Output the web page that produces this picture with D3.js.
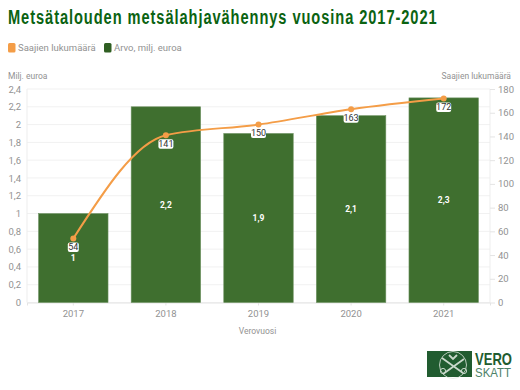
<!DOCTYPE html>
<html>
<head>
<meta charset="utf-8">
<script src="https://cdn.jsdelivr.net/npm/d3@7"></script>
<style>
  html, body { margin: 0; padding: 0; background: #fff; }
  svg { display: block; font-family: Roboto, "Liberation Sans", sans-serif; }
  .y-axis .domain, .y2-axis .domain { display: none; }
</style>
</head>
<body>
<svg id="chart" width="520" height="390"></svg>
<script>
const years = ["2017", "2018", "2019", "2020", "2021"]
const arvo = [1, 2.2, 1.9, 2.1, 2.3]
const saajat = [54, 141, 150, 163, 172]
const leftTicks = [0, 0.2, 0.4, 0.6, 0.8, 1, 1.2, 1.4, 1.6, 1.8, 2, 2.2, 2.4]
const rightTicks = [0, 20, 40, 60, 80, 100, 120, 140, 160, 180]

const svg = d3.select("#chart")
const measures = { left: 27, right: 490, top: 89, bottom: 302.5 }
const grey = "#929292", green = "#3f6f2f", orange = "#f49d47"
const comma = v => String(v).replace(".", ",")

const x = d3.scaleBand().domain(years).range([measures.left, measures.right]).paddingInner(0.25).paddingOuter(0.125)
const y = d3.scaleLinear().domain([0, 2.4]).range([measures.bottom, measures.top])
const y2 = d3.scaleLinear().domain([0, 180]).range([measures.bottom, measures.top])
const cx = d => x(d) + x.bandwidth() / 2

// squeeze a text sideways until it is the wanted width (no narrow font installed)
const fitText = (sel, px, py, width) => {
  const k = width / sel.node().getComputedTextLength()
  sel.attr("transform", `translate(${px},${py}) scale(${k},1)`)
}

// title and legend
const title = svg.append("text")
  .attr("font-family", "'Liberation Sans', sans-serif")
  .attr("font-weight", "bold").attr("font-size", 20.5)
  .attr("letter-spacing", 1.3)
  .attr("fill", "#0b6312")
  .text("Metsätalouden metsälahjavähennys vuosina 2017-2021")
fitText(title, 8, 24, 430)

const legend = [
  { label: "Saajien lukumäärä", color: orange, x: 8 },
  { label: "Arvo, milj. euroa", color: "#2f5f22", x: 104 }
]
legend.forEach(l => {
  svg.append("rect").attr("x", l.x).attr("y", 43).attr("width", 7.5).attr("height", 9.5).attr("rx", 1.5).attr("fill", l.color)
  svg.append("text").attr("x", l.x + 10).attr("y", 51).attr("font-size", 9.5).attr("fill", grey).text(l.label)
})

// axes
svg.append("g").selectAll("line")
  .data(leftTicks).enter().append("line")
  .attr("x1", measures.left).attr("x2", measures.right)
  .attr("y1", d => y(d)).attr("y2", d => y(d))
  .attr("stroke", "#f1f1f1")

svg.selectAll(".edge").data([measures.left, measures.right]).enter().append("line")
  .attr("x1", d => d).attr("x2", d => d)
  .attr("y1", measures.top).attr("y2", measures.bottom)
  .attr("stroke", "#ededed")

const yAxis = svg.append("g").attr("class", "y-axis")
  .attr("transform", `translate(${measures.left},0)`)
  .call(d3.axisLeft(y).tickValues(leftTicks).tickFormat(comma).tickSize(0).tickPadding(6))
const y2Axis = svg.append("g").attr("class", "y2-axis")
  .attr("transform", `translate(${measures.right},0)`)
  .call(d3.axisRight(y2).tickValues(rightTicks).tickSize(5).tickPadding(3))
const xAxis = svg.append("g").attr("class", "x-axis")
  .attr("transform", `translate(0,${measures.bottom})`)
  .call(d3.axisBottom(x).tickSize(3).tickPadding(5))
xAxis.select(".domain").attr("stroke", "#e4e4e4")
svg.selectAll(".y-axis text, .y2-axis text, .x-axis text")
  .attr("font-family", "Roboto, sans-serif").attr("font-size", 9.5).attr("fill", grey)
svg.selectAll(".y2-axis line, .x-axis line").attr("stroke", "#e4e4e4")

svg.append("text").attr("x", 8).attr("y", 79).attr("font-size", 8.5).attr("fill", grey).text("Milj. euroa")
svg.append("text").attr("x", 511).attr("y", 79).attr("text-anchor", "end").attr("font-size", 8.5).attr("fill", grey).text("Saajien lukumäärä")
svg.append("text").attr("x", (measures.left + measures.right) / 2 - 1).attr("y", 334).attr("text-anchor", "middle").attr("font-size", 8.5).attr("fill", grey).text("Verovuosi")

// bars
svg.selectAll(".bar").data(years).enter().append("rect")
  .attr("class", "bar")
  .attr("x", d => x(d))
  .attr("width", x.bandwidth())
  .attr("y", (_, i) => y(arvo[i]))
  .attr("height", (_, i) => y(0) - y(arvo[i]))
  .attr("fill", green)
  .attr("stroke", "#6d9160").attr("stroke-width", 0.6)

svg.selectAll(".bar-value").data(arvo).enter().append("text")
  .attr("class", "bar-value")
  .attr("x", (_, i) => cx(years[i]))
  .attr("y", d => (y(d) + y(0)) / 2 + 3)
  .attr("text-anchor", "middle")
  .attr("font-size", 8.5).attr("font-weight", "bold").attr("fill", "#fff")
  .text(comma)

// line
const line = d3.line().x((_, i) => cx(years[i])).y(d => y2(d)).curve(d3.curveMonotoneX)
svg.append("path").datum(saajat)
  .attr("d", line).attr("fill", "none").attr("stroke", orange).attr("stroke-width", 2)
svg.selectAll(".dot").data(saajat).enter().append("circle")
  .attr("cx", (_, i) => cx(years[i])).attr("cy", d => y2(d)).attr("r", 3).attr("fill", orange)

const labels = svg.selectAll(".line-label").data(saajat).enter().append("g")
  .attr("class", "line-label")
  .attr("transform", (d, i) => `translate(${cx(years[i])},${y2(d) + 8.5})`)
labels.append("rect").attr("x", d => d < 100 ? -5.5 : -7.5).attr("y", -4.5)
  .attr("width", d => d < 100 ? 11 : 15).attr("height", 9.5).attr("rx", 2).attr("fill", "#fff")
labels.append("text").attr("y", 3.3).attr("text-anchor", "middle")
  .attr("font-size", 9).attr("fill", "#333").text(d => d)

// logo
const logo = svg.append("g").attr("transform", "translate(427,351)")
logo.append("rect").attr("width", 45).attr("height", 26).attr("fill", "#215c30")
logo.append("circle").attr("cx", 26).attr("cy", 14).attr("r", 13.5).attr("fill", "none").attr("stroke", "#dfe8e0").attr("stroke-width", 0.8)
logo.append("path").attr("d", "M15 7L36 22M37 8L16 23M22 4L26 8L30 4").attr("stroke", "#c9d8cb").attr("stroke-width", 1.8).attr("fill", "none")
logo.append("circle").attr("cx", 37).attr("cy", 20).attr("r", 2.6).attr("fill", "none").attr("stroke", "#c9d8cb")
logo.append("circle").attr("cx", 16).attr("cy", 20).attr("r", 2.6).attr("fill", "none").attr("stroke", "#c9d8cb")
const vero = svg.append("text")
  .attr("font-family", "'Liberation Sans', sans-serif").attr("font-weight", "bold").attr("font-size", 16)
  .attr("fill", "#215c30").text("VERO")
fitText(vero, 475, 365, 37)
const skatt = svg.append("text")
  .attr("font-family", "'Liberation Sans', sans-serif").attr("font-size", 12)
  .attr("fill", "#4d8268").text("SKATT")
fitText(skatt, 475, 377, 36)
</script>
</body>
</html>
